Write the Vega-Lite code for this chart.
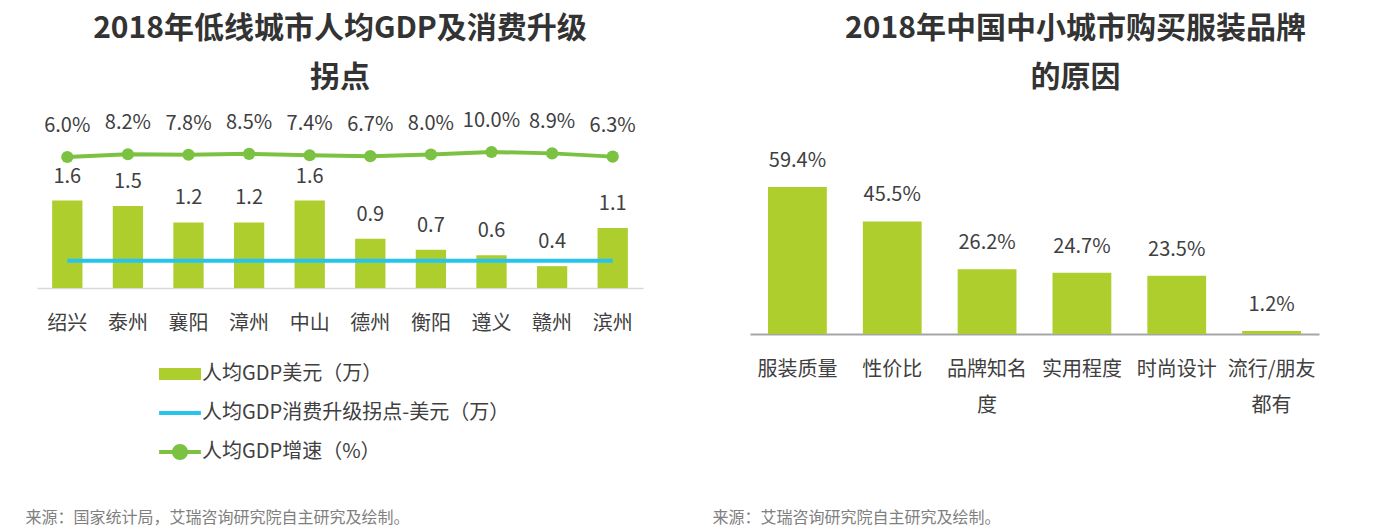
{
  "$schema": "https://vega.github.io/schema/vega-lite/v6.json",
  "background": "white",
  "padding": {"left": 25, "top": 13, "right": 5, "bottom": 5},
  "spacing": 107,
  "bounds": "flush",
  "config": {
    "font": "Noto Sans CJK SC",
    "view": {"stroke": null},
    "title": {"fontSize": 30, "fontWeight": "bold", "color": "#333333", "lineHeight": 49, "offset": 18, "anchor": "middle", "frame": "group"},
    "axis": {"grid": false, "ticks": false, "labelFontSize": 20, "labelColor": "#404040", "labelAngle": 0, "titleFontWeight": "normal", "titleFontSize": 16, "titleColor": "#808080", "titleAlign": "left", "titleBaseline": "middle", "titleAnchor": "start"}
  },
  "hconcat": [
    {
      "width": 606,
      "height": 177,
      "title": {"text": ["2018年低线城市人均GDP及消费升级", "拐点"]},
      "data": {"values": [
        {"city": "绍兴", "gdp": 1.6, "threshold": 0.5, "growth": 0.060},
        {"city": "泰州", "gdp": 1.5, "threshold": 0.5, "growth": 0.082},
        {"city": "襄阳", "gdp": 1.2, "threshold": 0.5, "growth": 0.078},
        {"city": "漳州", "gdp": 1.2, "threshold": 0.5, "growth": 0.085},
        {"city": "中山", "gdp": 1.6, "threshold": 0.5, "growth": 0.074},
        {"city": "德州", "gdp": 0.9, "threshold": 0.5, "growth": 0.067},
        {"city": "衡阳", "gdp": 0.7, "threshold": 0.5, "growth": 0.080},
        {"city": "遵义", "gdp": 0.6, "threshold": 0.5, "growth": 0.100},
        {"city": "赣州", "gdp": 0.4, "threshold": 0.5, "growth": 0.089},
        {"city": "滨州", "gdp": 1.1, "threshold": 0.5, "growth": 0.063}
      ]},
      "encoding": {
        "x": {
          "field": "city", "type": "nominal", "sort": null,
          "scale": {"paddingInner": 0.5, "paddingOuter": 0.25},
          "axis": {
            "title": "来源：国家统计局，艾瑞咨询研究院自主研究及绘制。",
            "titleX": -12, "titleY": 229,
            "labelPadding": 25, "domainColor": "#D9D9D9", "domainWidth": 1.5
          }
        }
      },
      "layer": [
        {
          "mark": {"type": "bar", "color": "#AECE2E"},
          "encoding": {
            "y": {"field": "gdp", "type": "quantitative", "scale": {"domain": [0, 3.24]}, "axis": null},
            "color": {
              "datum": "人均GDP美元（万）",
              "scale": {"domain": ["人均GDP美元（万）", "人均GDP消费升级拐点-美元（万）", "人均GDP增速（%）"], "range": ["#AECE2E", "#26C4EC", "#7CC242"]},
              "legend": {
                "orient": "none", "legendX": 122, "legendY": 242, "title": null,
                "labelFontSize": 20, "labelColor": "#404040", "labelOffset": 1, "labelLimit": 0,
                "symbolSize": 1444, "rowPadding": -1, "padding": 0,
                "symbolStrokeWidth": 4,
                "encode": {
                  "symbols": {
                    "update": {
                      "shape": {"signal": "datum.value === '人均GDP美元（万）' ? 'M-1.1,-0.5M-1.1,0.5M-1.0,-0.21H1.0V0.21H-1.0Z' : (datum.value === '人均GDP增速（%）' ? 'M-1.1,-0.5M-1.1,0.5M-1.1,0H1.1M-0.32,0A0.32,0.32 0 1,0 0.32,0A0.32,0.32 0 1,0 -0.32,0Z' : 'M-1.1,-0.5M-1.1,0.5M-1.1,0H1.1')"},
                      "fill": {"signal": "datum.value === '人均GDP美元（万）' ? '#AECE2E' : (datum.value === '人均GDP增速（%）' ? '#7CC242' : 'transparent')"},
                      "stroke": {"signal": "datum.value === '人均GDP美元（万）' ? '#AECE2E' : (datum.value === '人均GDP增速（%）' ? '#7CC242' : '#26C4EC')"},
                      "strokeWidth": {"value": 4},
                      "opacity": {"value": 1}
                    }
                  }
                }
              }
            }
          }
        },
        {
          "mark": {"type": "text", "fontSize": 20, "color": "#404040", "dy": -24, "baseline": "middle"},
          "encoding": {
            "y": {"field": "gdp", "type": "quantitative", "scale": {"domain": [0, 3.24]}, "axis": null},
            "text": {"field": "gdp", "type": "quantitative", "format": ".1f"}
          }
        },
        {
          "mark": {"type": "line", "strokeWidth": 4},
          "encoding": {
            "y": {"field": "threshold", "type": "quantitative", "scale": {"domain": [0, 3.24]}, "axis": null},
            "color": {"datum": "人均GDP消费升级拐点-美元（万）"}
          }
        },
        {
          "mark": {"type": "line", "strokeWidth": 4, "point": {"filled": true, "size": 150}},
          "encoding": {
            "y": {"field": "growth", "type": "quantitative", "scale": {"domain": [-0.988, 0.428]}, "axis": null},
            "color": {"datum": "人均GDP增速（%）"}
          }
        },
        {
          "mark": {"type": "text", "fontSize": 20, "color": "#404040", "dy": -31, "baseline": "middle"},
          "encoding": {
            "y": {"field": "growth", "type": "quantitative", "scale": {"domain": [-0.988, 0.428]}, "axis": null},
            "text": {"field": "growth", "type": "quantitative", "format": ".1%"}
          }
        }
      ],
      "resolve": {"scale": {"y": "independent"}}
    },
    {
      "width": 569,
      "height": 223,
      "title": {"text": ["2018年中国中小城市购买服装品牌", "的原因"], "dx": 41},
      "data": {"values": [
        {"reason": "服装质量", "share": 0.594},
        {"reason": "性价比", "share": 0.455},
        {"reason": "品牌知名度", "share": 0.262},
        {"reason": "实用程度", "share": 0.247},
        {"reason": "时尚设计", "share": 0.235},
        {"reason": "流行/朋友都有", "share": 0.012}
      ]},
      "encoding": {
        "x": {
          "field": "reason", "type": "nominal", "sort": null,
          "scale": {"paddingInner": 0.38, "paddingOuter": 0.19},
          "axis": {
            "title": "来源：艾瑞咨询研究院自主研究及绘制。",
            "titleX": -38, "titleY": 183,
            "labelPadding": 25, "labelLineHeight": 36,
            "labelExpr": "datum.value === '品牌知名度' ? ['品牌知名', '度'] : (datum.value === '流行/朋友都有' ? ['流行/朋友', '都有'] : datum.value)",
            "domainColor": "#A6A6A6", "domainWidth": 2
          }
        },
        "y": {"field": "share", "type": "quantitative", "scale": {"domain": [0, 0.901]}, "axis": null}
      },
      "layer": [
        {"mark": {"type": "bar", "color": "#AECE2E"}},
        {
          "mark": {"type": "text", "fontSize": 20, "color": "#404040", "dy": -26, "baseline": "middle"},
          "encoding": {"text": {"field": "share", "type": "quantitative", "format": ".1%"}}
        }
      ]
    }
  ]
}
